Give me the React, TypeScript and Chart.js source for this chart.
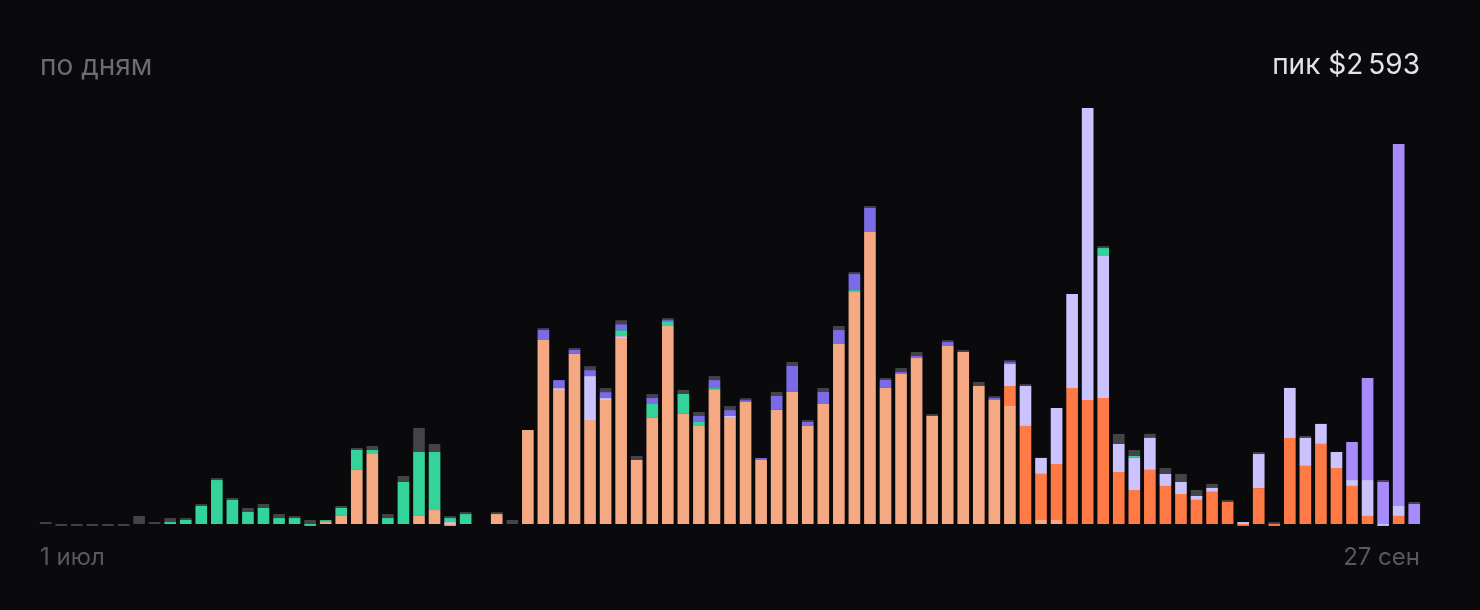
import React, { useEffect, useRef } from "react";
import { Chart, registerables } from "chart.js";

Chart.register(...registerables);

// Categories: 1 Jul .. 27 Sep (89 days)
const monthNames = ["июл", "авг", "сен"];
const monthLengths = [31, 31, 27];
const dayLabels: string[] = [];
monthNames.forEach((m, mi) => {
  for (let d = 1; d <= monthLengths[mi]; d++) dayLabels.push(`${d} ${m}`);
});

const titleLeft = "по дням";
const titleRight = "пик $2\u202F593";
const axisStart = "1 июл";
const axisEnd = "27 сен";

// Stacked series values in $ (bottom to top)
const peach = [
  0, 0, 0, 0, 0, 0, 0, 0, 0, 0,
  0, 0, 0, 0, 0, 0, 0, 0, 12, 50,
  337, 436, 0, 0, 50, 87, -12, 0, 0, 62,
  0, 586, 1147, 835, 1060, 648, 773, 1159, 399, 661,
  1234, 686, 611, 835, 661, 760, 399, 711, 823, 611,
  748, 1122, 1446, 1820, 848, 935, 1035, 673, 1109, 1072,
  860, 773, 735, 0, 25, 25, 0, 0, 0, 0,
  0, 0, 0, 0, 0, 0, 0, 0, 0, 0,
  0, 0, 0, 0, 0, 0, 0, 0, 0,
];

const orange = [
  0, 0, 0, 0, 0, 0, 0, 0, 0, 0,
  0, 0, 0, 0, 0, 0, 0, 0, 0, 0,
  0, 0, 0, 0, 0, 0, 0, 0, 0, 0,
  0, 0, 0, 0, 0, 0, 0, 0, 0, 0,
  0, 0, 0, 0, 0, 0, 0, 0, 0, 0,
  0, 0, 0, 0, 0, 0, 0, 0, 0, 0,
  0, 0, 125, 611, 287, 349, 848, 773, 785, 324,
  212, 337, 237, 187, 150, 200, 137, -12, 224, -12,
  536, 362, 499, 349, 237, 50, 0, 50, 0,
];

const lavender = [
  0, 0, 0, 0, 0, 0, 0, 0, 0, 0,
  0, 0, 0, 0, 0, 0, 0, 0, 0, 0,
  0, 0, 0, 0, 0, 0, 12, 0, 0, 0,
  0, 0, 0, 12, 0, 274, 12, 12, 0, 0,
  0, 0, 0, 0, 12, 0, 0, 0, 0, 0,
  0, 0, 0, 0, 0, 0, 0, 0, 0, 0,
  0, 0, 137, 249, 100, 349, 586, 1820, 885, 175,
  200, 200, 75, 75, 25, 25, 0, 12, 212, 0,
  312, 175, 125, 100, 37, 224, -12, 62, 0,
];

const green = [
  0, 0, 0, 0, 0, 0, 0, 0, 12, 25,
  112, 274, 150, 75, 100, 37, 37, -12, 12, 50,
  125, 25, 37, 262, 399, 362, 25, 62, 0, 0,
  0, 0, 0, 0, 0, 0, 0, 37, 0, 87,
  25, 125, 25, 12, 0, 0, 0, 0, 0, 0,
  0, 0, 12, 0, 0, 0, 0, 0, 0, 0,
  0, 0, 0, 0, 0, 0, 0, 0, 50, 0,
  12, 0, 0, 0, 0, 0, 0, 0, 0, 0,
  0, 0, 0, 0, 0, 0, 0, 0, 0,
];

const purple = [
  0, 0, 0, 0, 0, 0, 0, 0, 0, 0,
  0, 0, 0, 0, 0, 0, 0, 0, 0, 0,
  0, 0, 0, 0, 0, 0, 0, 0, 0, 0,
  0, 0, 62, 50, 25, 37, 37, 37, 0, 37,
  12, 0, 37, 50, 37, 12, 12, 87, 162, 25,
  75, 87, 100, 150, 50, 12, 12, 0, 25, 0,
  0, 12, 12, 0, 0, 0, 0, 0, 0, 0,
  0, 0, 0, 0, 0, 0, 0, 0, 0, 0,
  0, 0, 0, 0, 0, 0, 0, 0, 0,
];

const violet = [
  0, 0, 0, 0, 0, 0, 0, 0, 0, 0,
  0, 0, 0, 0, 0, 0, 0, 0, 0, 0,
  0, 0, 0, 0, 0, 0, 0, 0, 0, 0,
  0, 0, 0, 0, 0, 0, 0, 0, 0, 0,
  0, 0, 0, 0, 0, 0, 0, 0, 0, 0,
  0, 0, 0, 0, 0, 0, 0, 0, 0, 0,
  0, 0, 0, 0, 0, 0, 0, 0, 0, 0,
  0, 0, 0, 0, 0, 0, 0, 0, 0, 0,
  0, 0, 0, 0, 237, 636, 262, 2256, 125,
];

const grey = [
  12, -12, -12, -12, -12, -12, 50, 12, 25, 12,
  12, 12, 12, 25, 25, 25, 12, 25, 0, 12,
  12, 25, 25, 37, 150, 50, 12, 12, 0, 12,
  25, 0, 12, 0, 12, 25, 25, 25, 25, 25,
  12, 25, 25, 25, 25, 12, 0, 25, 25, 12,
  25, 25, 12, 12, 12, 25, 25, 12, 12, 12,
  25, 12, 12, 12, 0, 0, 0, 0, 12, 62,
  37, 25, 37, 50, 37, 25, 12, 0, 12, 12,
  0, 12, 0, 0, 0, 0, 12, 0, 12,
];

const seriesNames = ["peach", "orange", "lavender", "green", "purple", "violet", "grey"];
const seriesColors = ["#f4a982", "#ff7a45", "#cbc3fd", "#34d399", "#7b6be6", "#a78bfa", "#434348"];

export default function App() {
  const canvasRef = useRef<HTMLCanvasElement | null>(null);

  useEffect(() => {
    document.body.style.margin = "0";
    document.body.style.background = "#0a0a0c";
    const canvas = canvasRef.current;
    if (!canvas) return;
    const seriesData = [peach, orange, lavender, green, purple, violet, grey];
    const totals = dayLabels.map((_, i) =>
      seriesData.reduce((s, arr) => s + Math.max(0, arr[i]), 0)
    );
    const peak = Math.max(...totals);
    const chart = new Chart(canvas, {
      type: "bar",
      data: {
        labels: dayLabels,
        datasets: seriesData.map((d, i) => ({
          label: seriesNames[i],
          data: d,
          backgroundColor: seriesColors[i],
          borderWidth: 0,
          barPercentage: 0.75,
          categoryPercentage: 1,
        })),
      },
      options: {
        responsive: false,
        animation: false,
        devicePixelRatio: 1,
        layout: { padding: { left: 38, right: 58, top: 108, bottom: 82 } },
        plugins: { legend: { display: false }, tooltip: { enabled: false }, title: { display: false } },
        scales: {
          x: { stacked: true, display: false, grid: { display: false } },
          y: { stacked: true, display: false, min: -25, max: peak, grid: { display: false } },
        },
      },
    });
    return () => chart.destroy();
  }, []);

  const font = "Inter, 'Noto Sans', sans-serif";
  return (
    <div style={{ position: "relative", width: 1480, height: 610, background: "#0a0a0c", overflow: "hidden" }}>
      <canvas ref={canvasRef} width={1480} height={610} style={{ position: "absolute", left: 0, top: 0 }} />
      <div style={{ position: "absolute", left: 40, top: 51, fontFamily: font, fontSize: 28, lineHeight: "28px", color: "#6c6c71", whiteSpace: "nowrap" }}>
        {titleLeft}
      </div>
      <div style={{ position: "absolute", right: 60, top: 50, fontFamily: font, fontSize: 28, lineHeight: "28px", color: "#e4e4e6", whiteSpace: "nowrap" }}>
        {titleRight}
      </div>
      <div style={{ position: "absolute", left: 40, top: 545, fontFamily: font, fontSize: 24, lineHeight: "24px", color: "#58585d", whiteSpace: "nowrap" }}>
        {axisStart}
      </div>
      <div style={{ position: "absolute", right: 60, top: 545, fontFamily: font, fontSize: 24, lineHeight: "24px", color: "#58585d", whiteSpace: "nowrap" }}>
        {axisEnd}
      </div>
    </div>
  );
}
